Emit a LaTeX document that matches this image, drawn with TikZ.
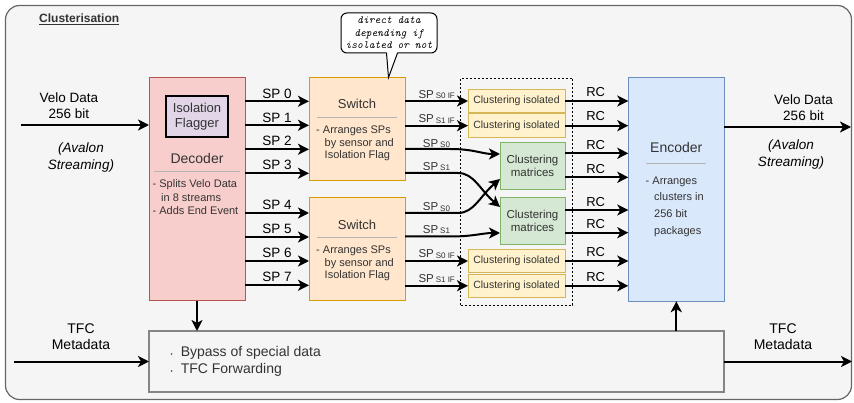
\documentclass[tikz,border=0pt]{standalone}
\usepackage{fontspec}
\setmainfont{Liberation Sans}
\usetikzlibrary{arrows.meta,calc}
\definecolor{framefill}{HTML}{F5F5F5}
\definecolor{framedraw}{HTML}{666666}
\definecolor{decfill}{HTML}{F8CECC}
\definecolor{decdraw}{HTML}{B85450}
\definecolor{isofill}{HTML}{E1D5E7}
\definecolor{swfill}{HTML}{FFE6CC}
\definecolor{swdraw}{HTML}{D79B00}
\definecolor{cifill}{HTML}{FFF2CC}
\definecolor{cidraw}{HTML}{D6B656}
\definecolor{mfill}{HTML}{D5E8D4}
\definecolor{mdraw}{HTML}{82B366}
\definecolor{encfill}{HTML}{DAE8FC}
\definecolor{encdraw}{HTML}{6C8EBF}
\definecolor{txt}{HTML}{333333}
\definecolor{sepline}{HTML}{B3B3B3}
\begin{document}
\begin{tikzpicture}[x=1pt,y=-1pt,
  box/.style={draw, line width=1pt, inner sep=0pt, outer sep=0pt},
  decbox/.style={box, fill=decfill, draw=decdraw, minimum width=96pt, minimum height=223pt},
  swbox/.style={box, fill=swfill, draw=swdraw, minimum width=96pt, minimum height=103pt},
  cibox/.style={box, fill=cifill, draw=cidraw, minimum width=97pt, minimum height=23.5pt, text=txt, font=\fontsize{10.5}{12}\selectfont},
  mbox/.style={box, fill=mfill, draw=mdraw, minimum width=65pt, minimum height=47pt, text=txt, align=center, font=\fontsize{11.5}{13}\selectfont},
  encbox/.style={box, fill=encfill, draw=encdraw, minimum width=96pt, minimum height=224pt},
  arr/.style={line width=2pt, -{Stealth[length=11pt,width=11pt,inset=3pt]}},
  lbl/.style={inner sep=0pt, font=\fontsize{13.5}{16}\selectfont},
  sublbl/.style={inner sep=0pt, font=\fontsize{11.5}{13}\selectfont, text=txt},
  head/.style={inner sep=0pt, text=txt, font=\fontsize{14}{16}\selectfont},
  small/.style={inner sep=0pt, text=txt, align=left, anchor=west},
  sep/.style={draw=sepline, line width=1pt}
]
\useasboundingbox (0,0) rectangle (854,403);
% frame
\node[draw=framedraw, fill=framefill, line width=1.2pt, rounded corners=14pt,
      minimum width=846pt, minimum height=394pt, inner sep=0pt] (frame) at (428.5,202.5) {};
\node[inner sep=0pt, anchor=west, text=txt, font=\bfseries\fontsize{12}{14}\selectfont] (title) at (39,19) {\underline{Clusterisation}};

% dashed group
\node[draw, dash pattern=on 2pt off 2pt, line width=0.8pt, minimum width=112pt, minimum height=227pt, inner sep=0pt] (grp) at (516.7,191.7) {};

% decoder
\node[decbox] (dec) at (197,189.5) {};
\node[box, fill=isofill, draw=black, line width=1.5pt, minimum width=62pt, minimum height=41pt, align=center, text=txt, font=\fontsize{13}{15}\selectfont] (iso) at (197,116.5) {Isolation\\Flagger};
\node[head] (dectxt) at (197,158) {Decoder};
\draw[sep] (154,172) -- (240,172);
\node[small, font=\fontsize{11}{13.5}\selectfont] (decb) at (152.5,197.5) {- Splits Velo Data\\\hspace*{8.5pt}in 8 streams\\- Adds End Event};

% switches
\node[swbox] (sw1) at (357,129.5) {};
\node[head, font=\fontsize{13}{15}\selectfont] (sw1t) at (357,104) {Switch};
\draw[sep] (317,117.5) -- (397,117.5);
\node[small, font=\fontsize{11}{12.5}\selectfont] (sw1b) at (316,143.5) {- Arranges SPs\\\hspace*{8.5pt}by sensor and\\\hspace*{8.5pt}Isolation Flag};

\node[swbox] (sw2) at (357,249) {};
\node[head, font=\fontsize{13}{15}\selectfont] (sw2t) at (357,225) {Switch};
\draw[sep] (317,237.5) -- (397,237.5);
\node[small, font=\fontsize{11}{12.5}\selectfont] (sw2b) at (316,263.5) {- Arranges SPs\\\hspace*{8.5pt}by sensor and\\\hspace*{8.5pt}Isolation Flag};

% clustering
\node[cibox] (ci1) at (516.5,101) {Clustering isolated};
\node[cibox] (ci2) at (516.5,125.7) {Clustering isolated};
\node[mbox] (m1) at (532.5,166) {Clustering\\matrices};
\node[mbox] (m2) at (532.5,221) {Clustering\\matrices};
\node[cibox] (ci3) at (516.5,261) {Clustering isolated};
\node[cibox] (ci4) at (516.5,285.8) {Clustering isolated};

% encoder
\node[encbox] (enc) at (676.3,189.2) {};
\node[head] (enctxt) at (676.3,147.3) {Encoder};
\draw[sep] (646,163.5) -- (706,163.5);
\node[small, font=\fontsize{11}{16.7}\selectfont] (encb) at (645.5,206.5) {- Arranges\\\hspace*{8.5pt}clusters in\\\hspace*{8.5pt}256 bit\\\hspace*{8.5pt}packages};

% bottom box
\node[box, fill=framefill, draw=framedraw!80, line width=1.2pt, minimum width=575pt, minimum height=61pt] (bot) at (436.5,361.5) {};
\node[small, font=\fontsize{14}{17.5}\selectfont] (botb) at (170.5,361.5) {{\fontsize{6}{6}\selectfont •}\hspace{8pt}Bypass of special data\\{\fontsize{6}{6}\selectfont •}\hspace{8pt}TFC Forwarding};

% callout
\node[draw, fill=white, line width=1pt, rounded corners=6pt, minimum width=96pt, minimum height=40pt, inner sep=0pt, align=center,
      font=\ttfamily\itshape\fontsize{11}{12.5}\selectfont] (call) at (389,33) {direct data\\depending if\\isolated or not};
\fill[white] (386.5,52) -- (388.5,77) -- (397.5,52) -- cycle;
\draw[line width=1pt] (386.5,53) -- (388.5,77.5) -- (397.5,53);

% external labels
\node[lbl, align=center] (vin) at (69,105.5) {Velo Data\\256 bit};
\node[lbl, align=center, font=\itshape\fontsize{13.5}{16.5}\selectfont] (avin) at (81,157.5) {(Avalon\\Streaming)};
\node[lbl, align=center] (vout) at (803.5,108) {Velo Data\\256 bit};
\node[lbl, align=center, font=\itshape\fontsize{13.5}{16.5}\selectfont] (avout) at (791,154.5) {(Avalon\\Streaming)};
\node[lbl, align=center, font=\fontsize{14}{15.5}\selectfont] (tin) at (81,336.5) {TFC\\Metadata};
\node[lbl, align=center, font=\fontsize{14}{15.5}\selectfont] (tout) at (783,336.5) {TFC\\Metadata};

\coordinate (veloin) at (21,125);
\coordinate (veloout) at (851,127);
\coordinate (tfcin) at (14,361.5);
\coordinate (tfcout) at (852,361.5);

\draw[arr] (veloin) -- (veloin -| dec.west);
\draw[arr] (enc.east |- veloout) -- (veloout);
\draw[arr] (tfcin) -- (bot.west);
\draw[arr] (bot.east) -- (tfcout);
\draw[arr] (dec.south) -- (dec.south |- bot.north);
\draw[arr] (bot.north -| enc.south) -- (enc.south);

% SP arrows decoder -> switches
\foreach \y/\t/\ly [count=\i] in {101.3/0/94.3, 125.3/1/117.8, 149.3/2/141.3, 173.3/3/165.3}{
  \draw[arr] (dec.east |- 0,\y) -- (sw1.west |- 0,\y);
  \node[lbl] (spl\i) at (277,\ly) {SP \t};
}
\foreach \y/\t/\ly [count=\i] in {213/4/204.5, 237/5/228.5, 261/6/252.5, 285.3/7/276.5}{
  \draw[arr] (dec.east |- 0,\y) -- (sw2.west |- 0,\y);
  \node[lbl] (splb\i) at (277,\ly) {SP \t};
}

% switch outputs
\newcommand{\splab}[1]{SP\,{\fontsize{8}{9}\selectfont\raisebox{-0.5pt}{#1}}}
\draw[arr] (sw1.east |- ci1.west) -- (ci1.west);
\draw[arr] (sw1.east |- ci2.west) -- (ci2.west);
\draw[arr] (sw1.east |- 0,149) -- (450,149) .. controls (474,149) and (482,154) .. (m1.west |- 0,154);
\draw[arr] (sw1.east |- 0,173) -- (458,173) .. controls (474,173) and (480,190) .. (m2.west |- 0,207);
\draw[arr] (sw2.east |- 0,213) -- (458,213) .. controls (474,213) and (480,196) .. (m1.west |- 0,179);
\draw[arr] (sw2.east |- 0,236.5) -- (450,236.5) .. controls (474,236.5) and (482,233) .. (m2.west |- 0,233);
\draw[arr] (sw2.east |- ci3.west) -- (ci3.west);
\draw[arr] (sw2.east |- ci4.west) -- (ci4.west);

\node[sublbl] (s1) at (436.7,94.5) {\splab{S0 IF}};
\node[sublbl] (s2) at (436.7,119) {\splab{S1 IF}};
\node[sublbl] (s3) at (436.5,143.5) {\splab{S0}};
\node[sublbl] (s4) at (436.5,166.5) {\splab{S1}};
\node[sublbl] (s5) at (436.5,207) {\splab{S0}};
\node[sublbl] (s6) at (436.5,229.5) {\splab{S1}};
\node[sublbl] (s7) at (436.7,254) {\splab{S0 IF}};
\node[sublbl] (s8) at (436.7,278.5) {\splab{S1 IF}};

% RC arrows
\foreach \src/\y/\ly [count=\i] in {ci1/101/92.5, ci2/125.7/116, m1/153.3/145.5, m1/177.3/169.5, m2/210/202, m2/232.7/224.5, ci3/261/252.5, ci4/285.8/277}{
  \draw[arr] (\src.east |- 0,\y) -- (enc.west |- 0,\y);
  \node[lbl, font=\fontsize{13}{15}\selectfont] (rc\i) at (595.7,\ly) {RC};
}
\end{tikzpicture}
\end{document}
